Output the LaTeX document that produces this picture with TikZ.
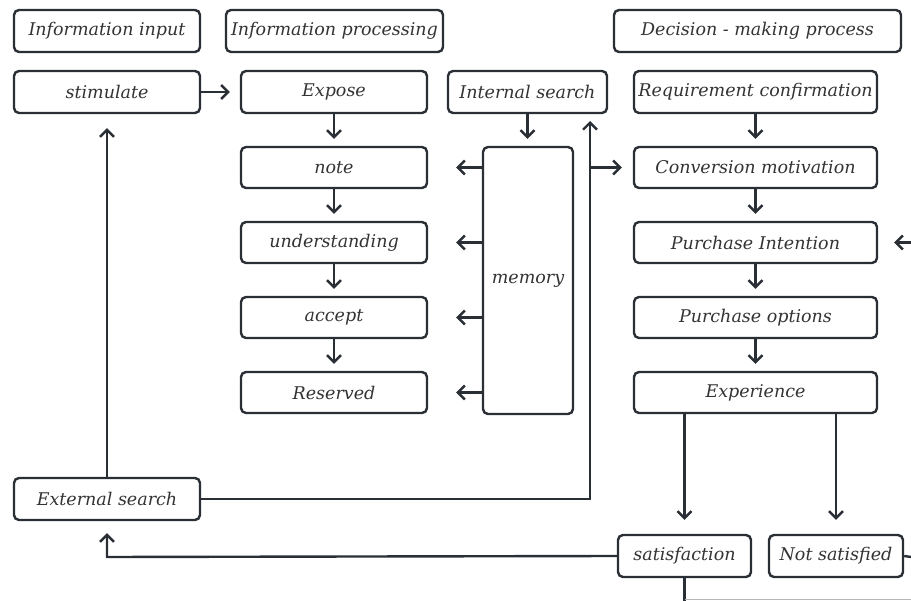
\documentclass[tikz,border=0pt]{standalone}
\usepackage{fontspec}
\setmainfont{DejaVu Serif}
\usetikzlibrary{arrows.meta}
\definecolor{ink}{HTML}{2A2E35}
\definecolor{txt}{HTML}{333333}
\tikzset{
  box/.style={draw=ink, line width=2.4pt, rounded corners=5pt, fill=white,
    minimum height=42pt, inner sep=0pt, text=txt,
    font=\fontsize{17.5}{20}\selectfont\itshape},
  link/.style={draw=ink, line width=2.4pt},
  arr/.style={link, -{Straight Barb[length=7pt,width=14pt,line width=2.4pt]}},
}
\begin{document}
\begin{tikzpicture}[x=1pt,y=-1pt]
\useasboundingbox (0,0) rectangle (911,601);
% headers
\node[box, minimum width=186pt] (inin)   at (107,31)   {Information input};
\node[box, minimum width=217pt] (inproc) at (334.5,31) {Information processing};
\node[box, minimum width=287pt] (dec)    at (757.5,31) {Decision - making process};
% first row
\node[box, minimum width=186pt] (stim)   at (107,92)   {stimulate};
\node[box, minimum width=186pt] (expose) at (334,92)   {Expose};
\node[box, minimum width=159pt] (isrch)  at (527.5,92) {Internal search};
\node[box, minimum width=243pt] (req)    at (755.5,92) {Requirement confirmation};
% processing chain
\node[box, minimum width=186pt, minimum height=41pt] (note) at (334,167.5) {note};
\node[box, minimum width=186pt, minimum height=41pt] (und)  at (334,242.5) {understanding};
\node[box, minimum width=186pt, minimum height=41pt] (acc)  at (334,317.5) {accept};
\node[box, minimum width=186pt, minimum height=41pt] (res)  at (334,392.5) {Reserved};
% memory
\node[box, minimum width=90pt, minimum height=267pt] (mem) at (528,280.5) {memory};
% decision chain
\node[box, minimum width=243pt, minimum height=41pt] (conv) at (755.5,167.5) {Conversion motivation};
\node[box, minimum width=243pt, minimum height=41pt] (pint) at (755.5,242.5) {Purchase Intention};
\node[box, minimum width=243pt, minimum height=41pt] (popt) at (755.5,317.5) {Purchase options};
\node[box, minimum width=243pt, minimum height=41pt] (exp)  at (755.5,392.5) {Experience};
% outcomes
\node[box, minimum width=186pt] (ext)  at (107,499)   {External search};
\node[box, minimum width=133pt] (sat)  at (684.5,556) {satisfaction};
\node[box, minimum width=134pt] (nsat) at (836,556)   {Not satisfied};
% junctions and free ends
\coordinate (trunkTop) at (590,121);
\coordinate (trunkBot) at (590,499);
\coordinate (trunkMid) at (590,167.5);
\coordinate (satL)     at (107,557);
\coordinate (rightIn)  at (911,242.5);
\coordinate (rightOut) at (911,557);
\coordinate (bottomA)  at (684.5,601);
\coordinate (bottomB)  at (911,599.5);
% chains
\draw[arr, shorten >=10pt] (stim) -- (expose);
\draw[arr, shorten >=7pt] (expose) -- (note);
\draw[arr, shorten >=7pt] (note) -- (und);
\draw[arr, shorten >=7pt] (und) -- (acc);
\draw[arr, shorten >=7pt] (acc) -- (res);
\draw[arr, shorten >=7pt] (isrch.south) -- (isrch.south |- mem.north);
\draw[arr, shorten >=7pt] (req) -- (conv);
\draw[arr, shorten >=7pt] (conv) -- (pint);
\draw[arr, shorten >=7pt] (pint) -- (popt);
\draw[arr, shorten >=7pt] (popt) -- (exp);
% memory feeds the processing steps
\foreach \n in {note,und,acc,res}
  \draw[arr, shorten >=28pt] (mem.west |- \n) -- (\n.east);
% external search loops
\draw[arr, shorten >=14pt] (ext) -- (stim);
\draw[arr] (ext.east) -- (trunkBot) -- (trunkTop);
\draw[arr, shorten >=11pt] (trunkMid) -- (conv.west);
% experience outcomes
\draw[arr, shorten >=14pt] (exp.south -| sat) -- (sat.north);
\draw[arr, shorten >=14pt] (exp.south -| nsat) -- (nsat.north);
\draw[arr, shorten >=12pt] (sat.west) -- (satL) -- (ext.south);
\draw[link] (nsat.east) -- (rightOut);
\draw[arr, shorten >=16pt] (rightIn) -- (pint.east);
\draw[link] (sat.south) -- (bottomA);
\draw[draw=ink!35, line width=1pt] (684.5,599.5) -- (bottomB);
\end{tikzpicture}
\end{document}
